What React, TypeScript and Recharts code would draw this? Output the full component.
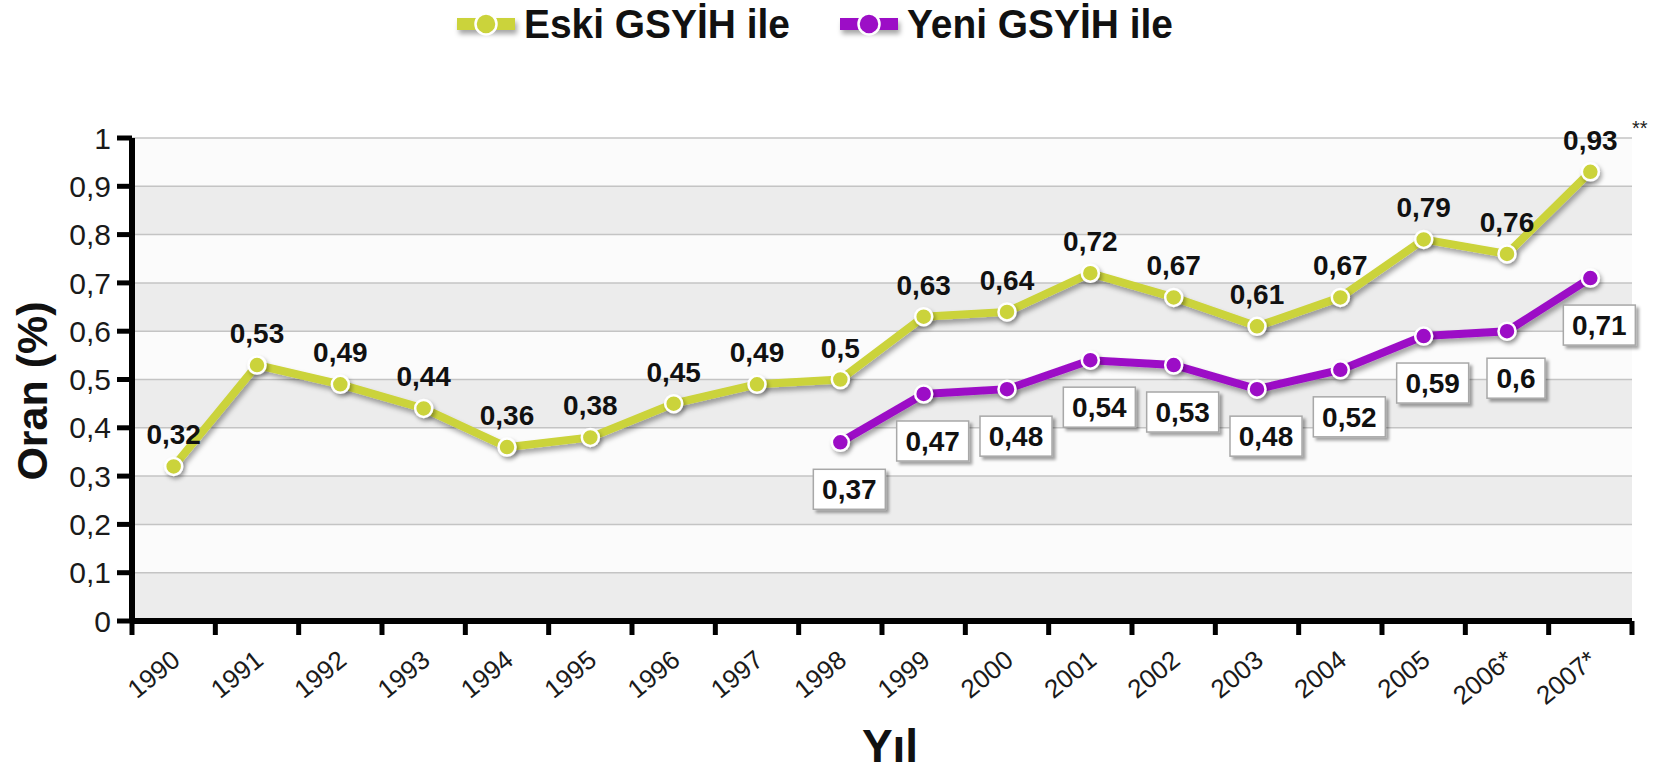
import React from "react";
import { CartesianGrid, Label, LabelList, Line, LineChart, XAxis, YAxis } from "recharts";

const years = [
  "1990", "1991", "1992", "1993", "1994", "1995", "1996", "1997", "1998",
  "1999", "2000", "2001", "2002", "2003", "2004", "2005", "2006*", "2007*",
];
const eskiValues = [
  0.32, 0.53, 0.49, 0.44, 0.36, 0.38, 0.45, 0.49, 0.5,
  0.63, 0.64, 0.72, 0.67, 0.61, 0.67, 0.79, 0.76, 0.93,
];
const yeniValues = [
  null, null, null, null, null, null, null, null, 0.37,
  0.47, 0.48, 0.54, 0.53, 0.48, 0.52, 0.59, 0.6, 0.71,
];
const yTicks = [0, 0.1, 0.2, 0.3, 0.4, 0.5, 0.6, 0.7, 0.8, 0.9, 1];
const seriesNames = ["Eski GSYİH ile", "Yeni GSYİH ile"];

const W = 1667;
const H = 773;
const PLOT_LEFT = 132;
const PLOT_RIGHT = 1632;
const BAND = (PLOT_RIGHT - PLOT_LEFT) / years.length;
const FONT = "'Liberation Sans', Arial, Helvetica, sans-serif";
const YELLOW = "#cbd33b";
const PURPLE = "#9c0fc6";

const data = years.map((year, i) => ({
  year,
  x: i + 0.5,
  eski: eskiValues[i],
  yeni: yeniValues[i],
}));
const xTicks = years.map((_, i) => i).concat(years.length);

const comma = (v: number) => String(+v.toFixed(2)).replace(".", ",");

function YearTick(props: any) {
  const { x, y, payload } = props;
  const label = years[payload.value];
  if (!label) return null;
  const px = x + BAND / 2 + 8;
  const py = y + 28;
  return (
    <text
      x={px}
      y={py}
      textAnchor="end"
      transform={`rotate(-39 ${px} ${py})`}
      fontSize={26}
      fontFamily={FONT}
      fill="#1a1a1a"
    >
      {label}
    </text>
  );
}

const makeDot = (color: string) => (p: any) => {
  if (p.value == null || p.cy == null) return <g key={`e-${p.index}`} />;
  return (
    <circle
      key={`d-${p.index}`}
      cx={p.cx}
      cy={p.cy}
      r={8.5}
      fill={color}
      stroke="#fff"
      strokeWidth={2.5}
      filter="url(#dotShadow)"
    />
  );
};

function EskiLabel(props: any) {
  const { x, y, value } = props;
  if (value == null) return null;
  return (
    <text x={x} y={y - 22} textAnchor="middle" fontSize={28} fontWeight="bold" fontFamily={FONT} fill="#111">
      {comma(value)}
    </text>
  );
}

function YeniLabel(props: any) {
  const { x, y, value } = props;
  if (value == null) return null;
  const txt = comma(value);
  const w = txt.length * 14 + 16;
  const cx = x + 9;
  const cy = y + 47;
  return (
    <g>
      <rect
        x={cx - w / 2}
        y={cy - 20}
        width={w}
        height={40}
        fill="#fff"
        stroke="#a8a8a8"
        strokeWidth={1.5}
        filter="url(#boxShadow)"
      />
      <text x={cx} y={cy + 10} textAnchor="middle" fontSize={28} fontWeight="bold" fontFamily={FONT} fill="#111">
        {txt}
      </text>
    </g>
  );
}

function LegendItem({ x, color, text }: { x: number; color: string; text: string }) {
  return (
    <g>
      <line x1={x} y1={24} x2={x + 58} y2={24} stroke={color} strokeWidth={12} filter="url(#lineShadow)" />
      <circle cx={x + 29} cy={24} r={10.5} fill={color} stroke="#fff" strokeWidth={2.5} />
      <text
        x={x + 67}
        y={38}
        fontSize={40}
        fontWeight="bold"
        fontFamily={FONT}
        fill="#111"
        textLength={266}
        lengthAdjust="spacingAndGlyphs"
      >
        {text}
      </text>
    </g>
  );
}

export default function App() {
  return (
    <div style={{ position: "absolute", left: 0, top: 0, width: W, height: H, background: "#fff" }}>
      <svg width={W} height={H} style={{ position: "absolute", left: 0, top: 0, pointerEvents: "none", zIndex: 2 }}>
        <defs>
          <filter id="lineShadow" filterUnits="userSpaceOnUse" x={0} y={0} width={W} height={H}>
            <feDropShadow dx={2} dy={4} stdDeviation={2.5} floodColor="#000" floodOpacity={0.35} />
          </filter>
          <filter id="dotShadow" x="-60%" y="-60%" width="220%" height="220%">
            <feDropShadow dx={2} dy={3} stdDeviation={2} floodColor="#000" floodOpacity={0.35} />
          </filter>
          <filter id="boxShadow" x="-20%" y="-30%" width="150%" height="170%">
            <feDropShadow dx={3} dy={3} stdDeviation={1.5} floodColor="#000" floodOpacity={0.35} />
          </filter>
        </defs>
        <LegendItem x={457} color={YELLOW} text={seriesNames[0]} />
        <LegendItem x={840} color={PURPLE} text={seriesNames[1]} />
        <text x={1632} y={135} fontSize={20} fontFamily={FONT} fill="#222">
          **
        </text>
      </svg>
      <LineChart
        width={W}
        height={H}
        data={data}
        margin={{ top: 138, right: W - PLOT_RIGHT, bottom: 92, left: PLOT_LEFT - 90 }}
        style={{ position: "absolute", left: 0, top: 0 }}
      >
        <CartesianGrid
          vertical={false}
          stroke="#c4c4c4"
          strokeWidth={1.5}
          horizontalFill={["#fbfbfb", "#ececec"]}
        />
        <XAxis
          type="number"
          dataKey="x"
          domain={[0, years.length]}
          ticks={xTicks}
          interval={0}
          height={60}
          axisLine={{ stroke: "#000", strokeWidth: 6 }}
          tickLine={{ stroke: "#000", strokeWidth: 5 }}
          tickSize={14}
          tickMargin={0}
          tick={<YearTick />}
        >
          <Label
            content={() => (
              <text
                x={890}
                y={762}
                textAnchor="middle"
                fontSize={46}
                fontWeight="bold"
                fontFamily={FONT}
                fill="#111"
              >
                Yıl
              </text>
            )}
          />
        </XAxis>
        <YAxis
          type="number"
          domain={[0, 1]}
          ticks={yTicks}
          width={90}
          axisLine={{ stroke: "#000", strokeWidth: 6 }}
          tickLine={{ stroke: "#000", strokeWidth: 5 }}
          tickSize={15}
          tickMargin={6}
          tickFormatter={comma}
          tick={{ fontSize: 30, fontFamily: FONT, fill: "#1a1a1a" }}
        >
          <Label
            content={() => (
              <text
                x={47}
                y={391}
                transform="rotate(-90 47 391)"
                textAnchor="middle"
                fontSize={43}
                fontWeight="bold"
                fontFamily={FONT}
                fill="#111"
              >
                Oran (%)
              </text>
            )}
          />
        </YAxis>
        <Line
          dataKey="eski"
          name={seriesNames[0]}
          stroke={YELLOW}
          strokeWidth={8}
          filter="url(#lineShadow)"
          dot={makeDot(YELLOW)}
          activeDot={false}
          isAnimationActive={false}
        >
          <LabelList dataKey="eski" content={<EskiLabel />} />
        </Line>
        <Line
          dataKey="yeni"
          name={seriesNames[1]}
          stroke={PURPLE}
          strokeWidth={8}
          filter="url(#lineShadow)"
          dot={makeDot(PURPLE)}
          activeDot={false}
          isAnimationActive={false}
        >
          <LabelList dataKey="yeni" content={<YeniLabel />} />
        </Line>
      </LineChart>
    </div>
  );
}
